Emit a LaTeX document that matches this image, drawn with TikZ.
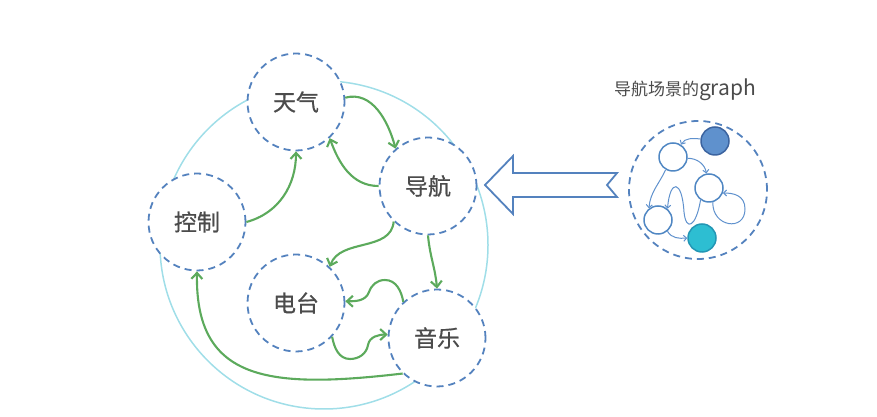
\documentclass[tikz,border=0pt]{standalone}
\usepackage{fontspec}
\setmainfont{Noto Sans CJK SC}
\newfontfamily\nodefont[FakeBold=0.6]{Noto Sans CJK SC}
\usetikzlibrary{arrows.meta}
\definecolor{dashblue}{RGB}{84,130,190}
\definecolor{edgegreen}{RGB}{92,170,92}
\definecolor{ringcyan}{RGB}{160,222,232}
\definecolor{textgray}{RGB}{75,75,75}
\definecolor{nodeblue}{RGB}{80,135,195}
\definecolor{edgeblue}{RGB}{95,145,205}
\definecolor{darkfill}{RGB}{95,145,205}
\definecolor{darkline}{RGB}{60,100,160}
\definecolor{cyanfill}{RGB}{45,190,210}
\definecolor{cyanline}{RGB}{35,150,180}
\begin{document}
\begin{tikzpicture}[x=1pt,y=1pt,
  state/.style={circle, draw=dashblue, dash pattern=on 7pt off 5pt, line width=1.8pt,
    fill=white, minimum size=97pt, inner sep=0pt, text=textgray,
    font=\nodefont\fontsize{23}{23}\selectfont},
  garrow/.style={draw=edgegreen, line width=2.1pt, -{Straight Barb[length=6pt,width=11pt]}},
  snode/.style={circle, draw=nodeblue, line width=1.5pt, fill=white, minimum size=28pt, inner sep=0pt},
  sarrow/.style={draw=edgeblue, line width=1pt, -{Straight Barb[length=3pt,width=6pt]}},
  bigarrow/.style={draw=dashblue, line width=1.8pt, fill=white, line join=miter}]
\useasboundingbox (0,0) rectangle (877,417);

% big ring
\draw[ringcyan, line width=1.5pt] (324,172) circle[radius=164];

% main nodes
\node[state] (tq) at (296,315) {天气};
\node[state] (dh) at (428,231) {导航};
\node[state] (kz) at (197,195) {控制};
\node[state] (dt) at (296,114) {电台};
\node[state] (yy) at (437,79) {音乐};

% green connectors
\draw[garrow] (kz.0) to[out=15,in=-90] (tq.-90);
\draw[garrow] (tq.5) to[out=15,in=105] (dh.131);
\draw[garrow] (dh.180) to[out=180,in=-70] (tq.-47);
\draw[garrow] (dh.-134) to[out=-95,in=70] (dt.47);
\draw[garrow] (dh.-90) to[out=-85,in=95] (yy.90);
\draw[garrow] (yy.133) to[out=100,in=0] (385,137) to[out=180,in=70] (369,125) to[out=-110,in=0] (dt.2);
\draw[garrow] (dt.-43) to[out=-80,in=180] (350,58) to[out=0,in=-100] (368,72) to[out=80,in=180] (yy.176);
\draw[garrow] (yy.-134) .. controls (270,28) and (195,35) .. (kz.-90);

% big hollow arrow
\draw[bigarrow] (485,232) -- (513,261) -- (513,244) -- (617,244) -- (607,232)
  -- (617,220) -- (513,220) -- (513,203) -- cycle;

% title of small graph
\node[text=textgray, font=\fontsize{17}{17}\selectfont, inner sep=0pt] (title) at (685,327)
  {导航场景的{\fontsize{21}{21}\selectfont graph}};

% small graph
\node[circle, draw=dashblue, dash pattern=on 7pt off 5pt, line width=1.8pt,
  minimum size=138pt, inner sep=0pt] (sg) at (698,227) {};
\node[snode, fill=darkfill, draw=darkline] (sa) at (715,276) {};
\node[snode] (sb) at (673,260) {};
\node[snode] (sc) at (709,229) {};
\node[snode] (sd) at (658,197) {};
\node[snode, fill=cyanfill, draw=cyanline] (se) at (702,179) {};

\draw[sarrow] (sa.172) to[out=175,in=60] (sb.57);
\draw[sarrow] (sb.-5) to[out=0,in=100] (sc.100);
\draw[sarrow] (sb.-120) to[out=-115,in=85] (sd.128);
\draw[sarrow] (sc.-125) .. controls (696,190) and (686,185) .. (684,205)
  .. controls (682,238) and (670,238) .. (sd.50);
\draw[sarrow] (sc.-75) .. controls (712,190) and (745,185) .. (745,208)
  .. controls (745,222) and (733,224) .. (sc.-20);
\draw[sarrow] (sd.-50) to[out=-60,in=185] (se.180);
\end{tikzpicture}
\end{document}
